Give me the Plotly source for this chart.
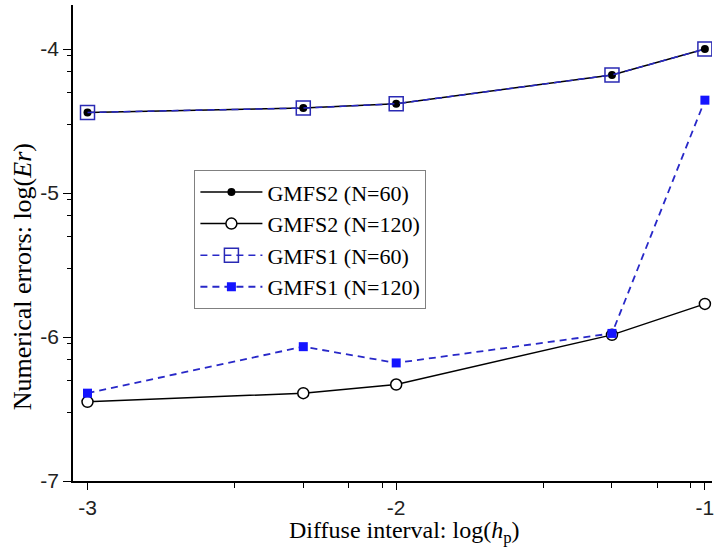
import numpy as np
import plotly.graph_objects as go

# log10 of the diffuse interval h_p
x_vals = [-3.0, -2.301, -2.0, -1.301, -1.0]

# log10 of the numerical error for each method / collocation count
gmfs2_n60 = [-4.44, -4.41, -4.38, -4.18, -4.0]
gmfs2_n120 = [-6.45, -6.39, -6.33, -5.985, -5.77]
gmfs1_n60 = [-4.44, -4.41, -4.38, -4.18, -4.0]
gmfs1_n120 = [-6.39, -6.067, -6.18, -5.975, -4.355]

x_ticks = [-3, -2, -1]
y_ticks = [-7, -6, -5, -4]

BLUE = "#1414ff"
DASH_BLUE = "#2828c8"
SQ_BLUE = "#2a2ab4"

fig = go.Figure()

fig.add_trace(go.Scatter(
    x=x_vals, y=gmfs2_n60, mode="lines+markers", name="GMFS2 (N=60)",
    line=dict(color="black", width=1.5),
    marker=dict(symbol="circle", size=8, color="black"),
))
fig.add_trace(go.Scatter(
    x=x_vals, y=gmfs2_n120, mode="lines+markers", name="GMFS2 (N=120)",
    line=dict(color="black", width=1.5),
    marker=dict(symbol="circle", size=11, color="white",
                line=dict(color="black", width=1.5)),
))
fig.add_trace(go.Scatter(
    x=x_vals, y=gmfs1_n60, mode="lines+markers", name="GMFS1 (N=60)",
    line=dict(color=DASH_BLUE, width=1.5, dash="7px,5px"),
    marker=dict(symbol="square-open", size=14, color=SQ_BLUE,
                line=dict(color=SQ_BLUE, width=1.5)),
))
fig.add_trace(go.Scatter(
    x=x_vals, y=gmfs1_n120, mode="lines+markers", name="GMFS1 (N=120)",
    line=dict(color=DASH_BLUE, width=1.8, dash="7px,5px"),
    marker=dict(symbol="square", size=9, color=BLUE),
))

# minor ticks at 3, 5, 7, 9 within each decade
minor_offsets = np.log10([3, 5, 7, 9])
x_minor = [d + o for d in (-3, -2) for o in minor_offsets]
y_minor = [d + o for d in (-7, -6, -5) for o in minor_offsets]

serif = "Liberation Serif, Times New Roman, serif"
sans = "Liberation Sans, Arial, sans-serif"

fig.update_layout(
    width=715, height=551,
    margin=dict(l=73, r=1, t=5, b=70),
    plot_bgcolor="white", paper_bgcolor="white",
    showlegend=True,
    legend=dict(
        x=0.19, y=0.653, xanchor="left", yanchor="top",
        bgcolor="white", bordercolor="#808080", borderwidth=1,
        font=dict(family=serif, size=22, color="black"),
        tracegroupgap=0, itemwidth=62,
    ),
    xaxis=dict(
        range=[-3.047, -0.977],
        tickvals=x_ticks, ticktext=[str(v) for v in x_ticks],
        ticklabeloverflow="allow",
        ticks="outside", ticklen=7, tickwidth=1.2, tickcolor="black",
        showline=True, linecolor="black", linewidth=1.5,
        showgrid=False, zeroline=False,
        tickfont=dict(family=sans, size=21, color="#222"),
        minor=dict(tickvals=x_minor, ticks="outside", ticklen=5,
                   tickwidth=1.2, tickcolor="black", showgrid=False),
    ),
    yaxis=dict(
        range=[-7.0, -3.694],
        tickvals=y_ticks, ticktext=[str(v) for v in y_ticks],
        ticks="outside", ticklen=8, tickwidth=1.2, tickcolor="black",
        showline=True, linecolor="black", linewidth=1.5,
        showgrid=False, zeroline=False,
        tickfont=dict(family=sans, size=21, color="#222"),
        minor=dict(tickvals=y_minor, ticks="outside", ticklen=4,
                   tickwidth=1.2, tickcolor="black", showgrid=False),
    ),
    annotations=[
        dict(text="Diffuse interval: log(<i>h</i><sub>p</sub>)",
             xref="paper", yref="paper", x=0.518, y=-0.108,
             xanchor="center", yanchor="middle", showarrow=False,
             font=dict(family=serif, size=24, color="black")),
        dict(text="Numerical errors: log(<i>Er</i>)",
             xref="paper", yref="paper", x=-0.08, y=0.43,
             xanchor="center", yanchor="middle", showarrow=False,
             textangle=-90,
             font=dict(family=serif, size=26, color="black")),
    ],
)

fig.write_html("out.html")
